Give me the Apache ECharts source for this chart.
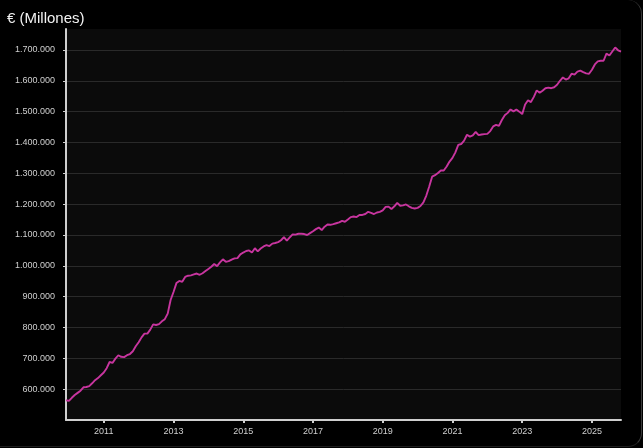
<!DOCTYPE html>
<html>
<head>
<meta charset="utf-8">
<script src="https://cdn.jsdelivr.net/npm/echarts@6/dist/echarts.min.js"></script>
<style>
  html, body { margin: 0; padding: 0; background: #000; }
  #card { position: absolute; left: 0; top: 0; width: 641px; height: 446px; background: #000;
          border-right: 1px solid #3a3a3a; border-bottom: 1px solid #1e1e1e; border-radius: 0 14px 14px 0; overflow: hidden; }
  #chart { width: 643px; height: 448px; }
</style>
</head>
<body>
<div id="card"><div id="chart"></div></div>
<script>
// Deuda en miles de millones de euros (mostrada como millones), mensual dic-2009 a nov-2025
const startYear = 2009, startMonth = 12;
const debt = [
  564,562,572,581,588,595,606,607,610,619,629,636,645,
  654,668,688,685,699,710,705,704,710,714,723,739,
  752,768,780,780,793,810,808,811,820,827,845,889,
  915,944,951,948,964,968,969,972,975,971,976,983,
  990,997,1006,999,1011,1021,1013,1015,1020,1024,1025,1037,
  1043,1048,1050,1043,1057,1047,1056,1063,1067,1064,1072,1074,
  1077,1083,1093,1082,1092,1102,1101,1104,1104,1103,1100,1106,
  1112,1119,1124,1116,1127,1134,1133,1135,1138,1141,1146,1143,
  1150,1158,1160,1158,1165,1165,1168,1175,1172,1168,1173,1175,
  1180,1191,1192,1184,1193,1204,1195,1196,1199,1193,1188,1186,
  1188,1194,1206,1228,1257,1289,1294,1301,1309,1309,1322,1338,
  1350,1368,1392,1395,1406,1425,1419,1423,1434,1424,1426,1427,
  1428,1437,1452,1457,1454,1473,1488,1496,1507,1501,1507,1500,
  1492,1523,1537,1531,1548,1569,1561,1568,1576,1578,1576,1579,
  1587,1600,1611,1604,1608,1623,1620,1630,1633,1628,1624,1623,
  1636,1653,1663,1665,1665,1688,1682,1695,1708,1699,1695
];
const yTicks = [600,700,800,900,1000,1100,1200,1300,1400,1500,1600,1700];
const xLabelYears = [2011,2013,2015,2017,2019,2021,2023,2025];
const title = '€ (Millones)';

const months = [];
{
  let y = startYear, m = startMonth;
  for (let i = 0; i < debt.length; i++) {
    months.push(y + '-' + String(m).padStart(2, '0'));
    m++; if (m > 12) { m = 1; y++; }
  }
}
function isLabelMonth(idx) {
  const v = months[idx];
  return v.endsWith('-01') && xLabelYears.indexOf(+v.slice(0, 4)) >= 0;
}
function fmt(v) {
  const n = Math.round(v * 1000);
  return String(n).replace(/\B(?=(\d{3})+(?!\d))/g, '.');
}

const chart = echarts.init(document.getElementById('chart'), null, { renderer: 'canvas' });
chart.setOption({
  backgroundColor: 'transparent',
  animation: false,
  title: {
    text: title, left: 2, top: 6,
    textStyle: { color: '#f2f2f2', fontSize: 15, fontWeight: 'normal', fontFamily: 'Liberation Sans, Arial, sans-serif' }
  },
  grid: {
    left: 66, right: 22, top: 29, bottom: 28, show: true,
    backgroundColor: '#0b0b0b', borderWidth: 0
  },
  xAxis: {
    type: 'category', data: months, boundaryGap: false,
    axisLine: { lineStyle: { color: '#cfcfcf', width: 2 } },
    axisTick: { show: true, length: 3, interval: (i) => isLabelMonth(i), lineStyle: { color: '#cfcfcf', width: 2 } },
    axisLabel: {
      interval: (i) => isLabelMonth(i), formatter: (v) => v.slice(0, 4),
      color: '#cfcfcf', fontSize: 9, margin: 7, fontFamily: 'Liberation Sans, Arial, sans-serif'
    },
    splitLine: { show: false }
  },
  yAxis: {
    type: 'value', min: 500, max: 1768,
    axisLine: { show: true, lineStyle: { color: '#cfcfcf', width: 2 } },
    axisTick: { show: true, length: 3, customValues: yTicks, lineStyle: { color: '#cfcfcf' } },
    axisLabel: {
      customValues: yTicks, formatter: fmt,
      color: '#cfcfcf', fontSize: 9, margin: 11, fontFamily: 'Liberation Sans, Arial, sans-serif'
    },
    splitLine: { show: true, lineStyle: { color: '#2a2a2a', width: 1 } }
  },
  series: [{
    type: 'line', data: debt, showSymbol: false, symbol: 'none',
    lineStyle: { color: '#c8359f', width: 1.9 }
  }]
});
</script>
</body>
</html>
